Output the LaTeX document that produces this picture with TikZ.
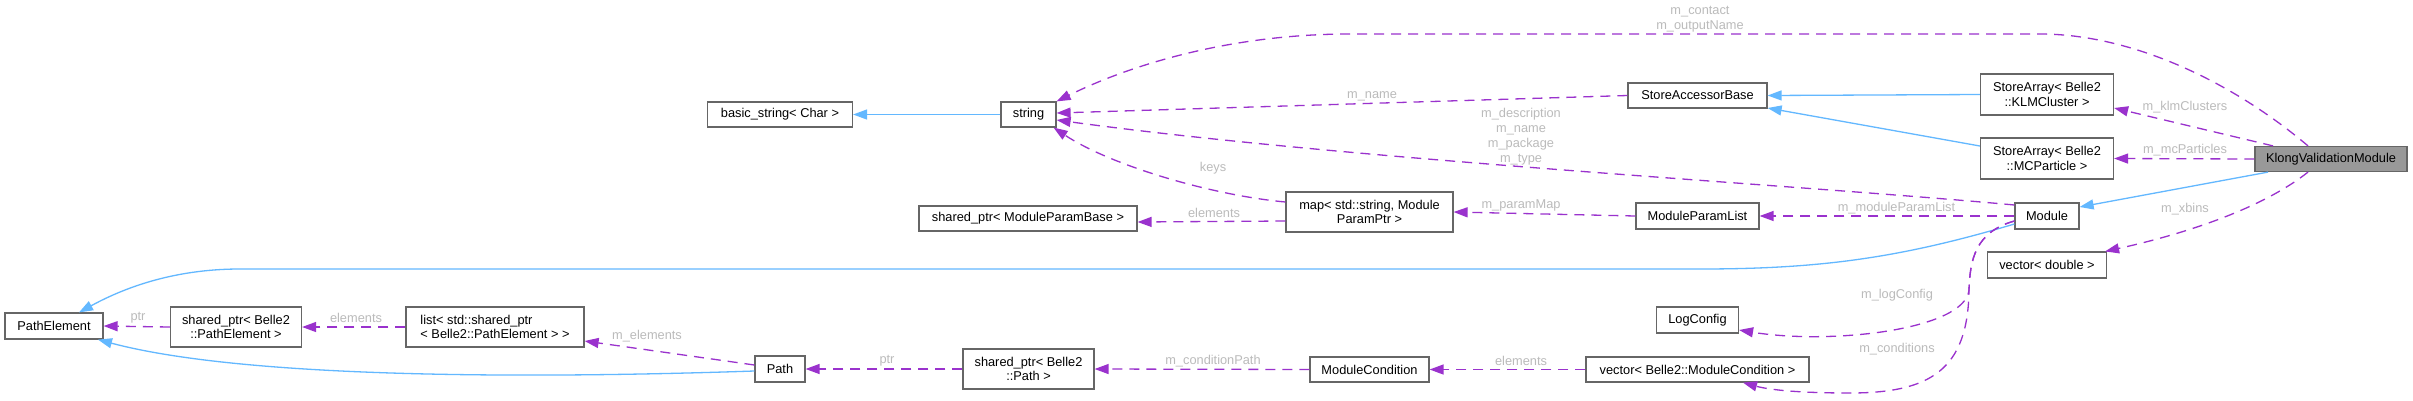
\documentclass[tikz,border=0pt]{standalone}
\usepackage{fontspec}
\setmainfont{Liberation Sans}
\usetikzlibrary{arrows.meta}
\definecolor{depc}{HTML}{9A32CD}
\definecolor{inhc}{HTML}{63B8FF}
\definecolor{lblc}{HTML}{BBBBBB}
\definecolor{bordc}{HTML}{666666}
\definecolor{kfill}{HTML}{999999}
\begin{document}
\begin{tikzpicture}[x=1pt,y=-1pt,
  box/.style={draw=bordc, line width=1.2pt, fill=white, inner sep=0pt, align=center,
    font=\fontsize{12.8}{14.3}\selectfont},
  lbl/.style={text=lblc, inner sep=0pt, align=center, font=\fontsize{12.8}{15}\selectfont},
  dep/.style={draw=depc, line width=1.3pt, dash pattern=on 10pt off 7pt,
    -{Triangle[length=14pt,width=10pt,fill=depc]}},
  inh/.style={draw=inhc, line width=1.3pt, -{Triangle[length=14pt,width=10pt,fill=inhc]}}]
\useasboundingbox (0,0) rectangle (2413,400);
\fill[white] (0,0) rectangle (2413,400);

% nodes
\node[box, minimum width=98pt, minimum height=26pt] (PE) at (54,326) {PathElement};
\node[box, minimum width=131pt, minimum height=40pt] (spPE) at (236,327) {shared\_ptr< Belle2\\::PathElement >};
\node[box, minimum width=178pt, minimum height=40pt, align=left] (list) at (495,327) {list< std::shared\_ptr\\< Belle2::PathElement > >};
\node[box, minimum width=145pt, minimum height=25pt] (basic) at (780,114.5) {basic\_string< Char >};
\node[box, minimum width=55pt, minimum height=25pt] (string) at (1028.5,114.5) {string};
\node[box, minimum width=218pt, minimum height=25pt] (spMPB) at (1028,218.5) {shared\_ptr< ModuleParamBase >};
\node[box, minimum width=50pt, minimum height=26pt] (Path) at (780,369) {Path};
\node[box, minimum width=131pt, minimum height=40pt] (spPath) at (1028.5,369) {shared\_ptr< Belle2\\::Path >};
\node[box, minimum width=139pt, minimum height=25pt] (SAB) at (1697.5,95.5) {StoreAccessorBase};
\node[box, minimum width=167pt, minimum height=40pt] (map) at (1369.5,212) {map< std::string, Module\\ParamPtr >};
\node[box, minimum width=123pt, minimum height=26pt] (MPL) at (1697.5,216) {ModuleParamList};
\node[box, minimum width=82pt, minimum height=26pt] (LogConfig) at (1697.5,320) {LogConfig};
\node[box, minimum width=119pt, minimum height=25pt] (MC) at (1369.5,369.5) {ModuleCondition};
\node[box, minimum width=223pt, minimum height=25pt] (vecMC) at (1697.5,369.5) {vector< Belle2::ModuleCondition >};
\node[box, minimum width=133pt, minimum height=41pt] (SAKLM) at (2047,94.5) {StoreArray< Belle2\\::KLMCluster >};
\node[box, minimum width=133pt, minimum height=41pt] (SAMC) at (2047,158.5) {StoreArray< Belle2\\::MCParticle >};
\node[box, minimum width=64pt, minimum height=26pt] (Module) at (2047,216) {Module};
\node[box, minimum width=119pt, minimum height=26pt] (vecD) at (2047,265) {vector< double >};
\node[box, fill=kfill, minimum width=152pt, minimum height=25pt] (Klong) at (2331,159) {KlongValidationModule};

% inheritance edges
\draw[inh] (string.west) -- (basic.east);
\draw[inh] (SAKLM.west) -- (SAB.east);
\draw[inh] ([yshift=12.5pt]SAMC.west) -- ([yshift=-12.5pt]SAB.east);
\draw[inh] ([xshift=-63pt]Klong.south) -- ([yshift=9pt]Module.east);
\draw[inh] ([yshift=-8pt]Module.west) .. controls (1900,258) and (1820,269) .. (1700,269)
   -- (240,269) .. controls (170,269) and (120,290) .. ([xshift=25pt]PE.north);
\draw[inh] ([yshift=-2pt]Path.west) .. controls (550,378) and (250,380) .. ([xshift=44pt]PE.south);

% dependency edges
\draw[dep] ([xshift=-23pt]Klong.north) .. controls (2230,80) and (2130,34) .. (2040,34)
   -- (1350,34) .. controls (1230,34) and (1130,65) .. (string.north east);
\draw[dep] ([xshift=-58pt]Klong.north) -- ([yshift=-13.5pt]SAKLM.east);
\draw[dep] (Klong.west) -- (SAMC.east);
\draw[dep] ([xshift=-23pt]Klong.south) .. controls (2260,210) and (2180,235) .. ([xshift=-2pt]vecD.north east);
\draw[dep] (SAB.west) -- ([yshift=1.5pt]string.east);
\draw[dep] ([yshift=11pt]Module.west) .. controls (1800,185) and (1350,160) .. ([yshift=-5.5pt]string.east);
\draw[dep] (Module.west) -- (MPL.east);
\draw[dep] ([yshift=-5pt]Module.west) .. controls (1975,232) and (1970,260) .. (1969,290)
   .. controls (1965,330) and (1830,345) .. ([yshift=-10pt]LogConfig.east);
\draw[dep] ([yshift=-5pt]Module.west) .. controls (1975,232) and (1970,260) .. (1969,290)
   .. controls (1968,370) and (1930,393) .. (1850,393)
   .. controls (1800,393) and (1770,390) .. ([xshift=45.5pt]vecMC.south);
\draw[dep] (MPL.west) -- (map.east);
\draw[dep] ([yshift=10pt]map.west) .. controls (1210,195) and (1110,165) .. ([xshift=-3pt]string.south east);
\draw[dep] ([yshift=-9pt]map.west) -- ([yshift=-3.5pt]spMPB.east);
\draw[dep] (vecMC.west) -- (MC.east);
\draw[dep] (MC.west) -- (spPath.east);
\draw[dep] (spPath.west) -- (Path.east);
\draw[dep] ([yshift=4pt]Path.west) -- ([yshift=-14pt]list.east);
\draw[dep] (list.west) -- (spPE.east);
\draw[dep] (spPE.west) -- (PE.east);

% labels
\node[lbl] (lcontact) at (1700,19.5) {m\_contact\\m\_outputName};
\node[lbl] (lname) at (1372,96) {m\_name};
\node[lbl] (ldesc) at (1521,136.5) {m\_description\\m\_name\\m\_package\\m\_type};
\node[lbl] (lklm) at (2185,107) {m\_klmClusters};
\node[lbl] (lmcp) at (2185,150) {m\_mcParticles};
\node[lbl] (lxbins) at (2185,209) {m\_xbins};
\node[lbl] (lmpl) at (1896.5,208) {m\_moduleParamList};
\node[lbl] (lpmap) at (1521,205) {m\_paramMap};
\node[lbl] (lkeys) at (1213,168) {keys};
\node[lbl] (lelem1) at (1214,213) {elements};
\node[lbl] (llog) at (1897,295) {m\_logConfig};
\node[lbl] (lcond) at (1897,349) {m\_conditions};
\node[lbl] (lelem2) at (1521,361) {elements};
\node[lbl] (lcpath) at (1213,361) {m\_conditionPath};
\node[lbl] (lptr2) at (887,361) {ptr};
\node[lbl] (lmelem) at (647,336) {m\_elements};
\node[lbl] (lelem3) at (356,318) {elements};
\node[lbl] (lptr1) at (138,318) {ptr};
\end{tikzpicture}
\end{document}
